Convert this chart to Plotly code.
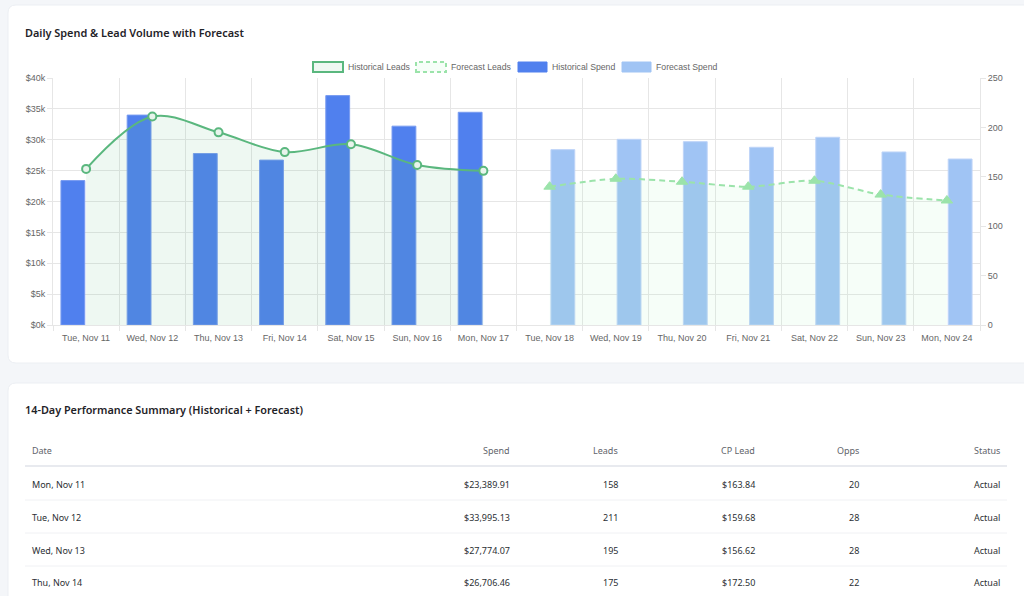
import plotly.graph_objects as go

# ---------------- data ----------------
categories = ["Tue, Nov 11", "Wed, Nov 12", "Thu, Nov 13", "Fri, Nov 14", "Sat, Nov 15",
              "Sun, Nov 16", "Mon, Nov 17", "Tue, Nov 18", "Wed, Nov 19", "Thu, Nov 20",
              "Fri, Nov 21", "Sat, Nov 22", "Sun, Nov 23", "Mon, Nov 24"]
hist_spend = [23389.91, 33995.13, 27774.07, 26706.46, 37150, 32200, 34450,
              None, None, None, None, None, None, None]
fc_spend = [None, None, None, None, None, None, None,
            28400, 30070, 29690, 28780, 30400, 28020, 26880]
hist_leads = [158, 211, 195, 175, 183, 162, 156,
              None, None, None, None, None, None, None]
fc_leads = [None, None, None, None, None, None, None,
            140, 148, 145, 140, 146, 132, 126]

spend_ticks = [0, 5000, 10000, 15000, 20000, 25000, 30000, 35000, 40000]
spend_tick_text = ["$0k", "$5k", "$10k", "$15k", "$20k", "$25k", "$30k", "$35k", "$40k"]
leads_ticks = [0, 50, 100, 150, 200, 250]

legend_labels = ["Historical Leads", "Forecast Leads", "Historical Spend", "Forecast Spend"]

table_columns = ["Date", "Spend", "Leads", "CP Lead", "Opps", "Status"]
table_dates = ["Mon, Nov 11", "Tue, Nov 12", "Wed, Nov 13", "Thu, Nov 14"]
table_spend = ["$23,389.91", "$33,995.13", "$27,774.07", "$26,706.46"]
table_leads = ["158", "211", "195", "175"]
table_cpl = ["$163.84", "$159.68", "$156.62", "$172.50"]
table_opps = ["20", "28", "28", "22"]
table_status = ["Actual", "Actual", "Actual", "Actual"]

# ---------------- styles ----------------
W, H = 1024, 596
PAGE_BG = "#f4f6f9"
GREEN = "#5ab77e"
GREEN_FILL = "rgba(92,184,127,0.10)"
LGREEN = "#9be3aa"
LGREEN_FILL = "rgba(134,239,172,0.08)"
BLUE = "#5080ee"
LBLUE = "#a0c4f4"
GRID = "#e6e6e6"
TICK_FONT = dict(family="Liberation Sans, Arial, sans-serif", size=9, color="#666666")
LEG_FONT = dict(family="Liberation Sans, Arial, sans-serif", size=8.7, color="#666666")
PAGE_FONT = "Noto Sans, Open Sans, sans-serif"


def px(x):
    return x / W


def py(y):
    return 1 - y / H


def rounded_rect(x0, y0, x1, y1, r):
    pts = [
        (x0 + r, y0), (x1 - r, y0), (x1, y0), (x1, y0 + r), (x1, y1 - r), (x1, y1),
        (x1 - r, y1), (x0 + r, y1), (x0, y1), (x0, y1 - r), (x0, y0 + r), (x0, y0),
    ]
    p = [(px(a), py(b)) for a, b in pts]
    return ("M {} {} L {} {} Q {} {} {} {} L {} {} Q {} {} {} {} L {} {} Q {} {} {} {} "
            "L {} {} Q {} {} {} {} Z").format(
        p[0][0], p[0][1], p[1][0], p[1][1], p[2][0], p[2][1], p[3][0], p[3][1],
        p[4][0], p[4][1], p[5][0], p[5][1], p[6][0], p[6][1], p[7][0], p[7][1],
        p[8][0], p[8][1], p[9][0], p[9][1], p[10][0], p[10][1], p[11][0], p[11][1],
        p[0][0], p[0][1])


fig = go.Figure()

fig.add_trace(go.Bar(x=categories, y=hist_spend, name="Historical Spend",
                     marker=dict(color=BLUE, line=dict(color="rgba(120,155,240,1)", width=1)),
                     yaxis="y"))
fig.add_trace(go.Bar(x=categories, y=fc_spend, name="Forecast Spend",
                     marker=dict(color=LBLUE, line=dict(color="rgba(190,212,248,1)", width=1)),
                     yaxis="y"))
fig.add_trace(go.Scatter(x=categories, y=hist_leads, name="Historical Leads", yaxis="y2",
                         mode="lines+markers", fill="tozeroy", fillcolor=GREEN_FILL,
                         line=dict(color=GREEN, width=2, shape="spline", smoothing=1),
                         marker=dict(symbol="circle", size=8, color="#e8f4ec",
                                     line=dict(color=GREEN, width=2)),
                         connectgaps=False))
fig.add_trace(go.Scatter(x=categories, y=fc_leads, name="Forecast Leads", yaxis="y2",
                         mode="lines+markers", fill="tozeroy", fillcolor=LGREEN_FILL,
                         line=dict(color=LGREEN, width=2, dash="6px,4px", shape="spline", smoothing=0.8),
                         marker=dict(symbol="triangle-up", size=10, color=LGREEN,
                                     line=dict(color=LGREEN, width=1)),
                         connectgaps=False))

shapes = []
annotations = []

# cards
shapes.append(dict(type="path", xref="paper", yref="paper", layer="below",
                   path=rounded_rect(8, 5, 1040, 363, 8),
                   fillcolor="white", line=dict(color="#eceff3", width=1)))
shapes.append(dict(type="path", xref="paper", yref="paper", layer="below",
                   path=rounded_rect(8, 383, 1040, 640, 8),
                   fillcolor="white", line=dict(color="#eceff3", width=1)))

# card titles
annotations.append(dict(x=px(23), y=py(32), xref="paper", yref="paper", xanchor="left",
                        yanchor="middle", showarrow=False,
                        text="Daily Spend &amp; Lead Volume with Forecast",
                        font=dict(family=PAGE_FONT, size=10.9, color="#1f2328", weight=600)))
annotations.append(dict(x=px(23), y=py(410), xref="paper", yref="paper", xanchor="left",
                        yanchor="middle", showarrow=False,
                        text="14-Day Performance Summary (Historical + Forecast)",
                        font=dict(family=PAGE_FONT, size=10.85, color="#1f2328", weight=600)))

# custom legend
leg_boxes = [(313, 343), (416, 446), (518, 547), (622, 651)]
leg_styles = [
    dict(fillcolor=GREEN_FILL, line=dict(color=GREEN, width=2)),
    dict(fillcolor=LGREEN_FILL, line=dict(color=LGREEN, width=2, dash="4px,3px")),
    dict(fillcolor=BLUE, line=dict(color=BLUE, width=1)),
    dict(fillcolor=LBLUE, line=dict(color=LBLUE, width=1)),
]
for (bx0, bx1), st, lab in zip(leg_boxes, leg_styles, legend_labels):
    shapes.append(dict(type="rect", xref="paper", yref="paper", x0=px(bx0), x1=px(bx1),
                       y0=py(72), y1=py(62), **st))
    annotations.append(dict(x=px(bx1 + 3), y=py(67), xref="paper", yref="paper",
                            xanchor="left", yanchor="middle", showarrow=False, text=lab,
                            font=LEG_FONT))

# table
col_x = [30, 512, 620, 757, 861, 1002]
col_anchor = ["left", "right", "right", "right", "right", "right"]
for cx, anc, lab in zip(col_x, col_anchor, table_columns):
    annotations.append(dict(x=px(cx), y=py(450), xref="paper", yref="paper", xanchor=anc,
                            yanchor="middle", showarrow=False, text=lab,
                            font=dict(family=PAGE_FONT, size=9, color="#5f646b")))
shapes.append(dict(type="line", xref="paper", yref="paper", x0=px(25), x1=px(1007),
                   y0=py(466), y1=py(466), line=dict(color="#e8eaef", width=2)))
row_y = [484, 517, 550, 582.5]
rows = list(zip(table_dates, table_spend, table_leads, table_cpl, table_opps, table_status))
for ry, row in zip(row_y, rows):
    for cx, anc, val in zip(col_x, col_anchor, row):
        annotations.append(dict(x=px(cx), y=py(ry), xref="paper", yref="paper", xanchor=anc,
                                yanchor="middle", showarrow=False, text=val,
                                font=dict(family=PAGE_FONT, size=9, color="#2b2f33")))
for ly in [500, 533, 566]:
    shapes.append(dict(type="line", xref="paper", yref="paper", x0=px(25), x1=px(1007),
                       y0=py(ly), y1=py(ly), line=dict(color="#f0f1f4", width=1)))

fig.update_layout(
    width=W, height=H, margin=dict(l=0, r=0, t=0, b=0),
    paper_bgcolor=PAGE_BG, plot_bgcolor="rgba(0,0,0,0)",
    showlegend=False, barmode="group", bargap=0.2, bargroupgap=0.1,
    xaxis=dict(domain=[px(53), px(980)], type="category", tickson="boundaries",
               showgrid=True, gridcolor=GRID, gridwidth=1,
               ticks="outside", ticklen=5, tickcolor=GRID, tickfont=TICK_FONT,
               ticklabelstandoff=4, automargin=False,
               showline=True, linecolor=GRID, linewidth=1, zeroline=False, fixedrange=True),
    yaxis=dict(domain=[py(325), py(78)], range=[0, 40000], tickvals=spend_ticks,
               ticktext=spend_tick_text, showgrid=True, gridcolor=GRID, gridwidth=1,
               ticks="outside", ticklen=5, tickcolor=GRID, tickfont=TICK_FONT,
               automargin=False, showline=True, linecolor=GRID, zeroline=False),
    yaxis2=dict(overlaying="y", side="right", range=[0, 250], tickvals=leads_ticks,
                showgrid=False, ticks="outside", ticklen=5, tickcolor=GRID,
                automargin=False, tickfont=TICK_FONT, showline=True, linecolor=GRID,
                zeroline=False),
    shapes=shapes, annotations=annotations,
)

fig.write_html("out.html")
